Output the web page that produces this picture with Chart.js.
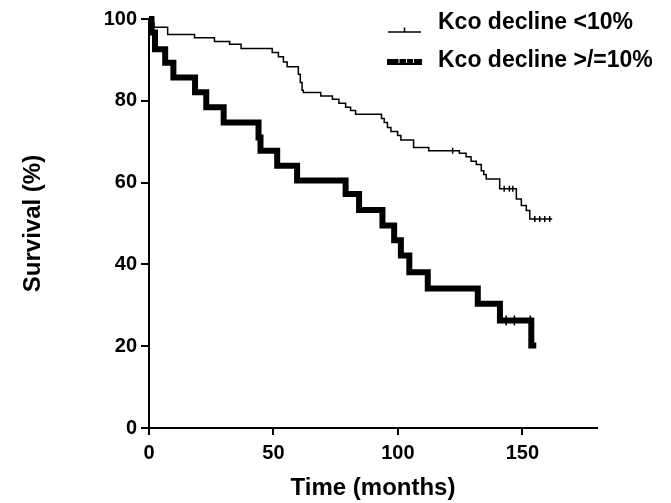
<!DOCTYPE html>
<html>
<head>
<meta charset="utf-8">
<script src="https://cdn.jsdelivr.net/npm/chart.js@4"></script>
<style>
  html, body { margin: 0; padding: 0; background: #fff; }
</style>
</head>
<body>
<canvas id="km" width="671" height="503"></canvas>
<script>
const SERIES_LABELS = ['Kco decline <10%', 'Kco decline >/=10%'];
const X_TITLE = 'Time (months)';
const Y_TITLE = 'Survival (%)';

// Kco decline <10% (thin line)
const lowTime = [0, 1, 2, 7.5, 18.3, 26.3, 32.4, 37, 49.5, 52, 54, 55.5, 60, 60.8, 61.5, 62, 69, 73.7, 76.3, 79, 81, 83,
  93.4, 94.5, 95.8, 97.2, 99.9, 101.2, 106.3, 112.4, 124.7, 127.4, 129.4, 131.5, 133.5, 134.5, 135.5, 140.9,
  147.6, 149.6, 151.6, 153, 162];
const lowSurv = [100, 99, 98, 96.2, 95.4, 94.5, 93.8, 92.8, 91.8, 90.8, 89.5, 88.3, 86.5, 84.5, 82.6, 82.0, 81.2, 80.4, 79.4, 78.4, 77.6, 76.7,
  75.7, 74.7, 73.5, 72.5, 71.5, 70.4, 68.6, 67.8, 67.2, 66.3, 65.2, 64.4, 62.9, 62.0, 60.9, 58.5,
  56.0, 54.4, 53.2, 51.1, 51.1];
const lowCensorTime = [122, 142.7, 144.8, 146.2, 155, 157, 159, 161];
const lowCensorSurv = [67.8, 58.5, 58.5, 58.5, 51.1, 51.1, 51.1, 51.1];

// Kco decline >/=10% (thick line)
const highTime = [0, 1, 2.4, 6.5, 9.8, 18.5, 23, 30, 44, 44.8, 51.5, 59.5, 79, 84.4, 93.8, 98.5, 101.2, 104.6, 112, 132.1, 141, 153.6, 155.6];
const highSurv = [100, 96.7, 92.6, 89.3, 85.7, 82.1, 78.4, 74.7, 71.0, 67.8, 64.1, 60.5, 57.2, 53.3, 49.5, 45.9, 42.2, 38.1, 34.1, 30.4, 26.3, 20.2, 20.2];
const highCensorTime = [143.5, 146.8, 153.2];
const highCensorSurv = [26.3, 26.3, 26.3];

const FONT = '"Liberation Sans", Arial, sans-serif';
const pts = (xs, ys) => xs.map((x, i) => ({ x, y: ys[i] }));

const kmLegend = {
  id: 'kmLegend',
  afterDraw(chart) {
    const ctx = chart.ctx;
    ctx.save();
    ctx.strokeStyle = '#000';
    ctx.fillStyle = '#000';
    ctx.lineWidth = 1.5;
    ctx.beginPath(); ctx.moveTo(388, 32); ctx.lineTo(421, 32); ctx.stroke();
    ctx.beginPath(); ctx.moveTo(404.5, 27.5); ctx.lineTo(404.5, 32); ctx.stroke();
    ctx.lineWidth = 6;
    ctx.beginPath(); ctx.moveTo(387, 62); ctx.lineTo(422, 62); ctx.stroke();
    ctx.strokeStyle = '#fff';
    ctx.lineWidth = 1;
    [399, 406.5, 413.5].forEach(x => { ctx.beginPath(); ctx.moveTo(x, 59); ctx.lineTo(x, 63); ctx.stroke(); });
    ctx.font = 'bold 23px ' + FONT;
    ctx.textBaseline = 'middle';
    ctx.fillText(SERIES_LABELS[0], 438, 23);
    ctx.fillText(SERIES_LABELS[1], 438, 61);
    ctx.restore();
  }
};

const tickFont = { family: FONT, size: 20, weight: 'bold' };
const titleFont = { family: FONT, size: 24, weight: 'bold' };

new Chart(document.getElementById('km'), {
  type: 'line',
  data: {
    datasets: [
      { label: SERIES_LABELS[0], data: pts(lowTime, lowSurv), stepped: true, borderColor: '#000', borderWidth: 1.5, pointRadius: 0, fill: false, clip: false },
      { label: SERIES_LABELS[1], data: pts(highTime, highSurv), stepped: true, borderColor: '#000', borderWidth: 6, pointRadius: 0, fill: false, clip: false },
      { type: 'scatter', data: pts(lowCensorTime, lowCensorSurv), pointStyle: 'line', rotation: 90, pointRadius: 3, borderColor: '#000', borderWidth: 1.5, clip: false },
      { type: 'scatter', data: pts(highCensorTime, highCensorSurv), pointStyle: 'line', rotation: 90, pointRadius: 5, borderColor: '#000', borderWidth: 1.5, clip: false }
    ]
  },
  options: {
    responsive: false,
    animation: false,
    layout: { padding: { left: 0, right: 74, top: 19, bottom: 0 } },
    plugins: { legend: { display: false }, tooltip: { enabled: false } },
    scales: {
      x: {
        type: 'linear', min: 0, max: 180,
        afterFit: s => { s.height = 75; },
        border: { color: '#000', width: 2 },
        grid: { drawOnChartArea: false, tickLength: 7, color: '#000', lineWidth: 2 },
        ticks: { stepSize: 50, includeBounds: false, color: '#000', font: tickFont, padding: 6, maxRotation: 0 },
        title: { display: true, text: X_TITLE, color: '#000', font: titleFont, padding: { top: 4, bottom: 0 } }
      },
      y: {
        min: 0, max: 100,
        afterFit: s => { s.width = 149; },
        border: { color: '#000', width: 2 },
        grid: { drawOnChartArea: false, tickLength: 8, color: '#000', lineWidth: 2 },
        ticks: { stepSize: 20, color: '#000', font: tickFont, padding: 4 },
        title: { display: true, text: Y_TITLE, color: '#000', font: titleFont, padding: { top: 19, bottom: 0 } }
      }
    }
  },
  plugins: [kmLegend]
});
</script>
</body>
</html>
